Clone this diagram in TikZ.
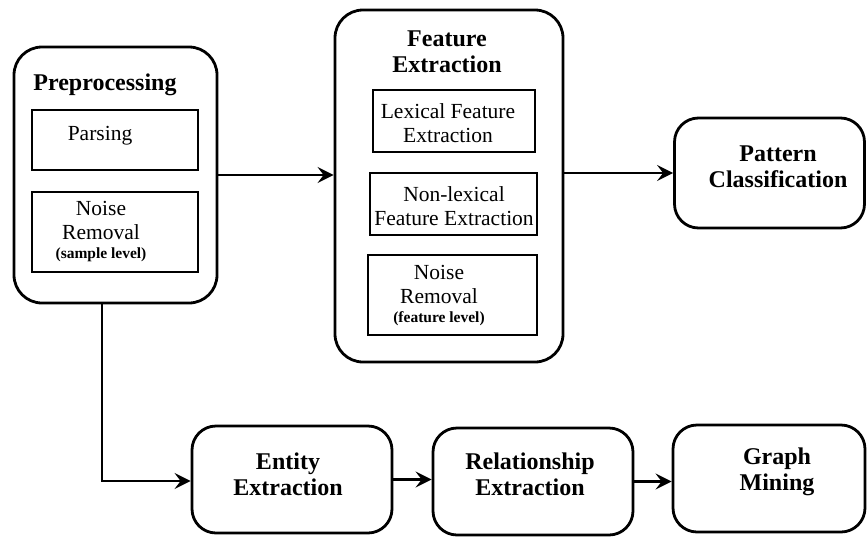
\documentclass[tikz,border=0pt]{standalone}
\usepackage{fontspec}
\setmainfont{Liberation Serif}
\usetikzlibrary{calc}
\usetikzlibrary{arrows.meta}
\tikzset{
  outerbox/.style={draw, line width=2.8pt, rounded corners=28pt, inner sep=0pt},
  stagebox/.style={draw, line width=2.8pt, rounded corners=24pt, inner sep=0pt},
  subbox/.style={draw, line width=2.6pt, inner sep=0pt},
  boldtxt/.style={align=center, inner sep=0pt, font=\fontsize{24}{26}\selectfont\bfseries},
  plaintxt/.style={align=center, inner sep=0pt, font=\fontsize{21.5}{24}\selectfont},
  flow/.style={line width=2.6pt, -{Stealth[length=16pt,width=16pt,inset=6pt]}}
}
\newcommand{\smalltxt}[1]{{\fontsize{15.5}{16}\selectfont\bfseries #1}}

\begin{document}
\begin{tikzpicture}[x=1pt,y=-1pt]
        \useasboundingbox (0,0) rectangle (867,536);
        % preprocessing
        \node[outerbox, minimum width=203pt, minimum height=256pt] (pre) at (115.5,175) {};
        \node[boldtxt] (pretxt) at (105,85) {Preprocessing};
        \node[subbox, minimum width=166pt, minimum height=60pt] (parse) at (115,140) {};
        \node[plaintxt] (parsetxt) at (100,136) {Parsing};
        \node[subbox, minimum width=166pt, minimum height=80pt] (noise1) at (115,232) {};
        \node[plaintxt] (noise1txt) at (101,232) {Noise\\Removal\\[-5pt]\smalltxt{(sample level)}};
        % feature extraction
        \node[outerbox, minimum width=228pt, minimum height=352pt] (feat) at (449,186) {};
        \node[boldtxt] (feattxt) at (447,51.5) {Feature\\Extraction};
        \node[subbox, minimum width=162pt, minimum height=62pt] (lex) at (454,121) {};
        \node[plaintxt] (lextxt) at (448,123) {Lexical Feature\\Extraction};
        \node[subbox, minimum width=167pt, minimum height=62pt] (nonlex) at (453.5,204) {};
        \node[plaintxt] (nonlextxt) at (454,206) {Non-lexical\\Feature Extraction};
        \node[subbox, minimum width=169pt, minimum height=80pt] (noise2) at (452.5,295) {};
        \node[plaintxt] (noise2txt) at (439,295.5) {Noise\\Removal\\[-5pt]\smalltxt{(feature level)}};
        % pattern classification
        \node[stagebox, minimum width=190pt, minimum height=110pt] (pat) at (769.5,173) {};
        \node[boldtxt] (pattxt) at (778,166.5) {Pattern\\Classification};
        % lower row
        \node[stagebox, minimum width=200pt, minimum height=107pt] (ent) at (292,479.5) {};
        \node[boldtxt] (enttxt) at (288,474) {Entity\\Extraction};
        \node[stagebox, minimum width=200pt, minimum height=107pt] (rel) at (533,481.5) {};
        \node[boldtxt] (reltxt) at (530,474.5) {Relationship\\Extraction};
        \node[stagebox, minimum width=192pt, minimum height=107pt] (graph) at (769,478.5) {};
        \node[boldtxt] (graphtxt) at (777,472) {Graph\\Mining};
        % arrows
        \coordinate (turn) at (102,481);
        \draw[flow] (pre.east) -- (pre.east -| feat.west);
        \draw[flow] (pat.west -| feat.east) -- (pat.west);
        \draw[flow] (pre.south -| turn) -- (turn) -- (turn -| ent.west);
        \draw[flow] (ent.east) -- (ent.east -| rel.west);
        \draw[flow] (rel.east) -- (rel.east -| graph.west);
\end{tikzpicture}
\end{document}
